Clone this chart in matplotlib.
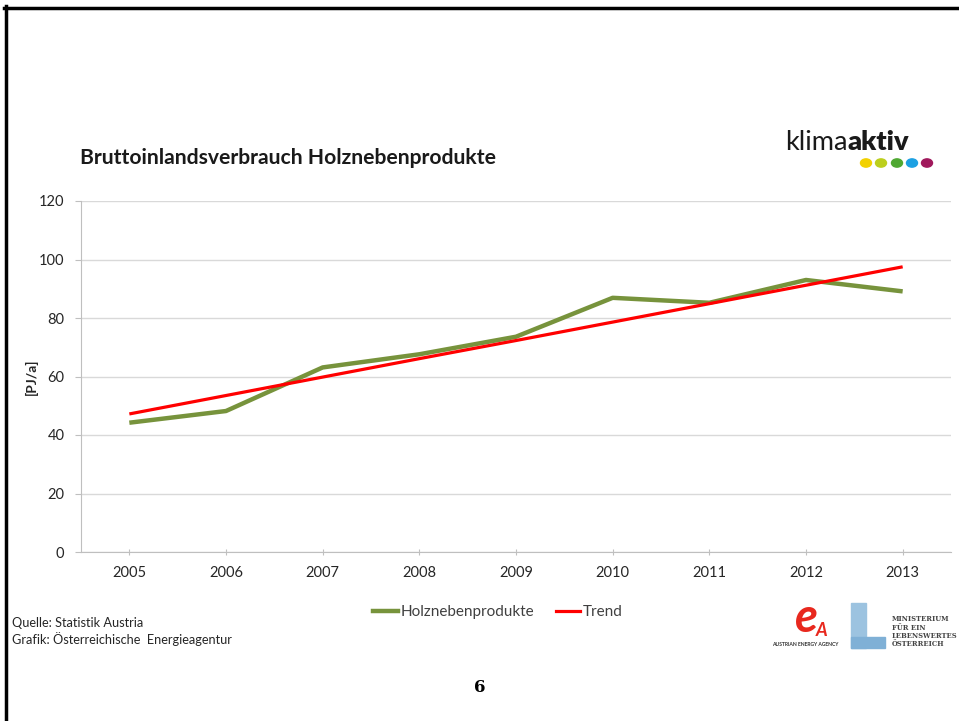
import numpy as np
import matplotlib
matplotlib.use("Agg")
import matplotlib.pyplot as plt
from matplotlib.lines import Line2D
from matplotlib.patches import Rectangle, Circle

# data
years = ['2005', '2006', '2007', '2008', '2009', '2010', '2011', '2012', '2013']
holz = [44.2, 48.2, 63.1, 67.6, 73.6, 86.9, 85.2, 93.0, 89.1]
trend = [47.2, 53.5, 59.8, 66.1, 72.3, 78.6, 84.9, 91.2, 97.5]
y_ticks = [0, 20, 40, 60, 80, 100, 120]

W, H = 959, 721
plt.rcParams['font.family'] = ['Lato', 'DejaVu Sans']

fig = plt.figure(figsize=(W / 100, H / 100), dpi=100)
fig.patch.set_facecolor('white')


def fx(x):
    return x / W


def fy(y):
    return 1 - y / H


# slide frame (left and top edge)
fig.add_artist(Line2D([fx(5.5), fx(5.5)], [0, fy(6)], color='black', lw=2.5, transform=fig.transFigure))
fig.add_artist(Line2D([fx(4), 1], [fy(7.5), fy(7.5)], color='black', lw=2.5, transform=fig.transFigure))

ax = fig.add_axes([fx(81), fy(552), fx(951) - fx(81), fy(201) - fy(552)])
x = np.arange(len(years))
ax.plot(x, holz, color='#77933C', lw=3.2, solid_capstyle='butt', zorder=3)
ax.plot(x, trend, color='#FF0000', lw=2.3, solid_capstyle='butt', zorder=4)

ax.set_xlim(-0.5, len(years) - 0.5)
ax.set_ylim(0, 120)
ax.set_yticks(y_ticks)
ax.set_xticks(x)
ax.set_xticklabels(years)
ax.grid(axis='y', color='#d9d9d9', lw=1)
ax.set_axisbelow(True)
for s in ['top', 'right']:
    ax.spines[s].set_visible(False)
ax.spines['left'].set_color('#bfbfbf')
ax.spines['bottom'].set_color('#bfbfbf')
ax.tick_params(axis='x', colors='#bfbfbf', labelcolor='#262626', labelsize=10.5, length=4,
               direction='inout', pad=8)
ax.tick_params(axis='y', colors='#bfbfbf', labelcolor='#262626', labelsize=10.5, length=4,
               direction='out', pad=8)

fig.text(fx(31), fy(377), '[PJ/a]', fontsize=10, fontweight='bold', color='#262626',
         rotation=90, ha='center', va='center')

fig.text(fx(80), fy(158), 'Bruttoinlandsverbrauch Holznebenprodukte', fontsize=15.2,
         fontweight='bold', color='#1a1a1a', va='center', ha='left')

# legend
handles = [Line2D([], [], color='#77933C', lw=3.2), Line2D([], [], color='#FF0000', lw=2.3)]
fig.legend(handles, ['Holznebenprodukte', 'Trend'], loc='center', bbox_to_anchor=(fx(498), fy(612)),
           ncol=2, frameon=False, fontsize=11, handlelength=1.6, handletextpad=0.2,
           columnspacing=1.4, labelcolor='#404040')

# source notes
fig.text(fx(12), fy(623), 'Quelle: Statistik Austria', fontsize=9.2, color='#262626', va='center')
fig.text(fx(12), fy(639), 'Grafik: Österreichische  Energieagentur', fontsize=9.2, color='#262626', va='center')

# page number
fig.text(fx(480), fy(687), '6', fontsize=12, family='DejaVu Serif', fontweight='bold', ha='center', va='center')

# klimaaktiv logo
fig.text(fx(848), fy(142), 'klima', fontsize=19.5, color='#1a1a1a', ha='right', va='center')
fig.text(fx(847), fy(142), 'aktiv', fontsize=19.5, fontweight='heavy', color='#1a1a1a', ha='left', va='center')
for cx, c in zip([866, 881, 897, 912, 927], ['#f2d100', '#bccf1d', '#4fa832', '#1ca0e2', '#a0185c']):
    fig.add_artist(Circle((fx(cx), fy(163)), 5.5 / W, color=c, transform=fig.transFigure))

# energy agency logo
fig.text(fx(806), fy(618), 'e', fontsize=34, fontweight='bold', style='italic', color='#e8281e',
         ha='center', va='center')
fig.text(fx(822), fy(630), 'A', fontsize=13, fontweight='bold', style='italic', color='#e8281e',
         ha='center', va='center')
fig.text(fx(805), fy(645), 'AUSTRIAN ENERGY AGENCY', fontsize=3.6, fontweight='bold', color='#333333',
         ha='center', va='center')

# ministry logo
fig.add_artist(Rectangle((fx(851), fy(648)), 15 / W, 45 / H, color='#9cc3e0', transform=fig.transFigure))
fig.add_artist(Rectangle((fx(851), fy(648)), 34 / W, 11 / H, color='#7fb0d6', transform=fig.transFigure))
for i, t in enumerate(['MINISTERIUM', 'FÜR EIN', 'LEBENSWERTES', 'ÖSTERREICH']):
    fig.text(fx(892), fy(619 + i * 8.5), t, fontsize=4.9, family='DejaVu Serif', fontweight='bold',
             color='#444444', ha='left', va='center')

fig.savefig('out.png', dpi=100)
